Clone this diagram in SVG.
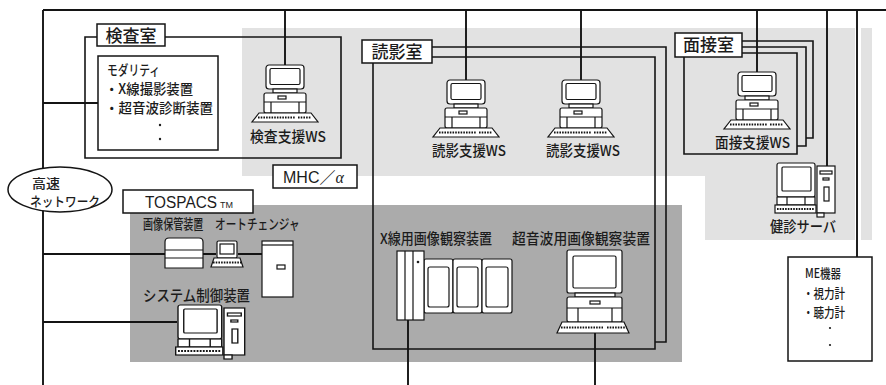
<svg xmlns="http://www.w3.org/2000/svg" xmlns:xlink="http://www.w3.org/1999/xlink" width="886" height="385" viewBox="0 0 886 385">
  <style>
    .ln { fill: none; stroke: #141414; stroke-width: 1.9; }
    .rm { fill: none; stroke: #141414; stroke-width: 1.6; }
    .bx { fill: #fff; stroke: #141414; stroke-width: 1.5; }
    .ic { fill: #fff; stroke: #141414; stroke-width: 1.2; }
    .ic path.h { fill: none; stroke-dasharray: 1.6 1.1; stroke-width: 2; }
    .jp { font-family: "Noto Sans CJK JP", "Noto Sans", sans-serif; font-weight: 500; fill: #1c1c1c; }
    .lat { font-family: "Liberation Sans", "Noto Sans", sans-serif; fill: #1c1c1c; }
  </style>
  <defs>
    <!-- desktop workstation: monitor, base unit, keyboard (origin = top centre) -->
    <g id="ws-icon" class="ic">
      <rect x="-19" y="0" width="38" height="24" rx="3"/>
      <rect x="-15" y="3.5" width="30" height="16" rx="1.5"/>
      <rect x="-12" y="24" width="24" height="4"/>
      <rect x="-21" y="28" width="42" height="20" rx="2"/>
      <path d="M-21 37h42M-14 37v11M14 37v11" fill="none"/>
      <rect x="-7" y="31" width="8" height="3"/>
      <path d="M-26 48h52l7 9h-66z"/>
      <path class="h" d="M-27 52.5h37M13 52.5h13"/>
    </g>
    <!-- PC with tower case (origin = monitor top-left) -->
    <g id="pc-icon" class="ic">
      <rect x="0" y="0" width="38" height="34" rx="2"/>
      <rect x="5" y="4" width="29" height="24" rx="1"/>
      <rect x="0" y="34" width="38" height="8"/>
      <path d="M10 34v8M28 34v8" fill="none"/>
      <rect x="-2" y="42" width="41" height="8"/>
      <path class="h" d="M0 46h37"/>
      <rect x="40" y="3" width="18" height="47"/>
      <rect x="43" y="8" width="12" height="3"/>
      <rect x="46" y="15" width="6" height="2"/>
      <rect x="47" y="24" width="5" height="14"/>
      <rect x="40" y="50" width="7" height="4"/>
    </g>
  </defs>

  <rect width="886" height="385" fill="#fff"/>

  <!-- shaded areas -->
  <path d="M242 28H855V240H705V176H242Z" fill="#e2e2e2"/>
  <rect x="861" y="28" width="11" height="212" fill="#e2e2e2"/>
  <rect x="130" y="205" width="552" height="157" fill="#ababab"/>

  <!-- network lines -->
  <g id="connectors" class="ln">
    <path d="M43 10H886"/>
    <path d="M43 10V385"/>
    <path d="M43 103H98"/>
    <path d="M43 254H165M203 254H216M238 254H262"/>
    <path d="M43 322H177"/>
    <path d="M285 10V65"/>
    <path d="M466 10V80"/>
    <path d="M581 10V80"/>
    <path d="M757 10V72"/>
    <path d="M827 10V166"/>
    <path d="M857 10V257"/>
    <path d="M408 320V385"/>
    <path d="M595 333V385"/>
  </g>

  <!-- rooms -->
  <g id="room-kensa">
    <path class="rm" d="M97 37H85V158H341V37H165"/>
    <rect class="bx" x="97" y="24" width="68" height="22"/>
    <text class="jp" x="131" y="42" font-size="17" text-anchor="middle">検査室</text>
  </g>
  <g id="room-dokuei">
    <path class="rm" d="M432 57H655V349H373V63"/>
    <path class="rm" d="M432 47H666V342H655"/>
    <rect class="bx" x="362" y="40" width="70" height="23"/>
    <text class="jp" x="397" y="58" font-size="17" text-anchor="middle">読影室</text>
  </g>
  <g id="room-mensetsu">
    <path class="rm" d="M742 41H813V138H806"/>
    <path class="rm" d="M742 47H806V146H797"/>
    <path class="rm" d="M742 53H797V154H684V57"/>
    <rect class="bx" x="675" y="33" width="67" height="24"/>
    <text class="jp" x="708.5" y="51" font-size="17" text-anchor="middle">面接室</text>
  </g>

  <!-- modality list -->
  <g id="modality">
    <rect class="bx" x="98" y="56" width="120" height="94"/>
    <text class="jp" x="107" y="75" font-size="14" textLength="53" lengthAdjust="spacingAndGlyphs">モダリティ</text>
    <text class="jp" x="105" y="94" font-size="14" textLength="88" lengthAdjust="spacingAndGlyphs">・X線撮影装置</text>
    <text class="jp" x="105" y="113" font-size="14" textLength="108" lengthAdjust="spacingAndGlyphs">・超音波診断装置</text>
    <circle cx="160" cy="125" r="1.2" fill="#1c1c1c"/>
    <circle cx="160" cy="139" r="1.2" fill="#1c1c1c"/>
  </g>

  <!-- workstations -->
  <g id="ws-kensa">
    <use xlink:href="#ws-icon" href="#ws-icon" transform="translate(285,65)"/>
    <text class="jp" x="250" y="142" font-size="15" textLength="76" lengthAdjust="spacingAndGlyphs">検査支援WS</text>
  </g>
  <g id="ws-dokuei-1">
    <use xlink:href="#ws-icon" href="#ws-icon" transform="translate(466,80)"/>
    <text class="jp" x="432" y="156" font-size="15" textLength="74" lengthAdjust="spacingAndGlyphs">読影支援WS</text>
  </g>
  <g id="ws-dokuei-2">
    <use xlink:href="#ws-icon" href="#ws-icon" transform="translate(581,80)"/>
    <text class="jp" x="546" y="156" font-size="15" textLength="74" lengthAdjust="spacingAndGlyphs">読影支援WS</text>
  </g>
  <g id="ws-mensetsu">
    <use xlink:href="#ws-icon" href="#ws-icon" transform="translate(757,72)"/>
    <text class="jp" x="715" y="148" font-size="15" textLength="75" lengthAdjust="spacingAndGlyphs">面接支援WS</text>
  </g>
  <g id="kenshin-server">
    <use xlink:href="#pc-icon" href="#pc-icon" transform="translate(777,163)"/>
    <text class="jp" x="770" y="232" font-size="15" textLength="66" lengthAdjust="spacingAndGlyphs">健診サーバ</text>
  </g>

  <!-- MHC/α label -->
  <g id="mhc">
    <rect class="bx" x="273" y="165" width="84" height="23"/>
    <text class="lat" x="283" y="183" font-size="16">MHC<tspan class="jp" font-weight="400">／</tspan><tspan font-family="Liberation Serif, serif" font-style="italic">α</tspan></text>
  </g>

  <!-- ME equipment -->
  <g id="me">
    <rect class="bx" x="788" y="257" width="84" height="104"/>
    <text class="jp" x="805" y="278" font-size="13" textLength="36" lengthAdjust="spacingAndGlyphs">ME機器</text>
    <text class="jp" x="803" y="298" font-size="13" textLength="42" lengthAdjust="spacingAndGlyphs">・視力計</text>
    <text class="jp" x="803" y="317" font-size="13" textLength="42" lengthAdjust="spacingAndGlyphs">・聴力計</text>
    <circle cx="830" cy="328" r="1.1" fill="#1c1c1c"/>
    <circle cx="830" cy="345" r="1.1" fill="#1c1c1c"/>
  </g>

  <!-- high-speed network -->
  <g id="network">
    <ellipse class="bx" cx="60" cy="189.5" rx="52" ry="22.5"/>
    <text class="jp" x="32" y="188" font-size="13" textLength="28" lengthAdjust="spacingAndGlyphs">高速</text>
    <text class="jp" x="30" y="206" font-size="13" textLength="70" lengthAdjust="spacingAndGlyphs">ネットワーク</text>
  </g>

  <!-- TOSPACS -->
  <g id="tospacs">
    <rect class="bx" x="123" y="190" width="130" height="23"/>
    <text class="lat" x="145" y="208" font-size="16" textLength="72" lengthAdjust="spacingAndGlyphs">TOSPACS</text>
    <text class="lat" x="220" y="208" font-size="9">TM</text>
  </g>

  <g id="image-storage">
    <text class="jp" transform="translate(143,229) scale(0.72,1)" font-size="14">画像保管装置</text>
    <path class="ic" d="M165 268V242q0-4 4-4h30q4 0 4 4V268Z"/>
    <path class="ic" d="M165 250H203M165 258H203" fill="none"/>
    <g class="ic">
      <rect x="217" y="241" width="20" height="17" rx="1.5"/>
      <rect x="220" y="244" width="14" height="10"/>
      <path d="M214 258h26l3 9h-32z"/>
      <path class="h" d="M213 262.5h29"/>
    </g>
  </g>
  <g id="autochanger">
    <text class="jp" transform="translate(215,229) scale(0.76,1)" font-size="14">オートチェンジャ</text>
    <rect class="ic" x="262" y="241" width="31" height="56"/>
    <path class="ic" d="M262 245H293" fill="none"/>
    <rect class="ic" x="277" y="265" width="8" height="4"/>
  </g>
  <g id="system-control">
    <text class="jp" x="143" y="301" font-size="15" textLength="107" lengthAdjust="spacingAndGlyphs">システム制御装置</text>
    <use xlink:href="#pc-icon" href="#pc-icon" transform="translate(178,305) scale(1.15,1)"/>
  </g>

  <!-- image viewers -->
  <g id="xray-viewer">
    <text class="jp" x="380" y="244" font-size="15" textLength="112" lengthAdjust="spacingAndGlyphs">X線用画像観察装置</text>
    <g class="ic">
      <rect x="424" y="259" width="29" height="54" rx="2"/>
      <rect x="453" y="259" width="29" height="54" rx="2"/>
      <rect x="482" y="259" width="30" height="54" rx="2"/>
      <rect x="428" y="267" width="21" height="40" rx="2"/>
      <rect x="457" y="267" width="21" height="40" rx="2"/>
      <rect x="486" y="267" width="22" height="40" rx="2"/>
      <rect x="397" y="251" width="27" height="69"/>
      <path d="M405 251V320M413 251V320" fill="none"/>
    </g>
    <circle cx="418" cy="262" r="1.3" fill="#1c1c1c"/>
  </g>
  <g id="us-viewer">
    <text class="jp" x="512" y="244" font-size="15" textLength="138" lengthAdjust="spacingAndGlyphs">超音波用画像観察装置</text>
    <g class="ic">
      <rect x="567" y="250" width="55" height="43" rx="2"/>
      <rect x="573" y="256" width="43" height="32" rx="1.5"/>
      <rect x="575" y="293" width="40" height="4"/>
      <rect x="567" y="297" width="55" height="25" rx="2"/>
      <path d="M567 308H622M578 308V322M612 308V322" fill="none"/>
      <rect x="590" y="301" width="10" height="3"/>
      <path d="M562 322h62l5 11h-72z"/>
      <path class="h" d="M561 327.5h42M607 327.5h20"/>
    </g>
  </g>
</svg>
